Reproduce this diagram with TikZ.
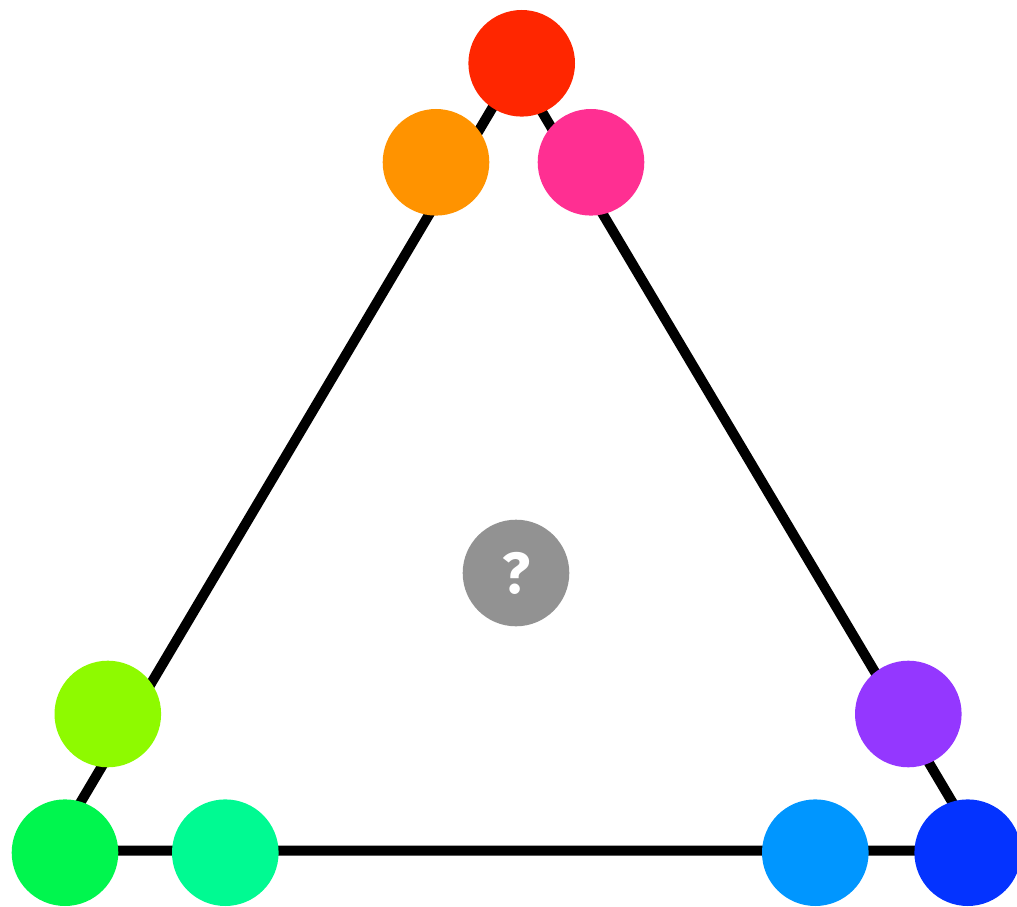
\documentclass[tikz,border=0pt]{standalone}
\usepackage{fontspec}
\newfontfamily\qfont{Fira Sans}
\definecolor{cMaraschino}{HTML}{FF2600}
\definecolor{cTangerine}{HTML}{FF9300}
\definecolor{cStrawberry}{HTML}{FF2F92}
\definecolor{cLime}{HTML}{8EFA00}
\definecolor{cSpring}{HTML}{00F64E}
\definecolor{cSeafoam}{HTML}{00FA92}
\definecolor{cAqua}{HTML}{0096FF}
\definecolor{cBlueberry}{HTML}{0433FF}
\definecolor{cGrape}{HTML}{9437FF}
\definecolor{cNickel}{HTML}{929292}
\tikzset{
  dot/.style={circle, fill=#1, draw=none, minimum size=106.6pt, inner sep=0pt},
  edge/.style={line width=10pt, black, line join=miter}
}
\begin{document}
\begin{tikzpicture}[x=1pt,y=1pt]
\useasboundingbox (0,0) rectangle (1017,906);
\coordinate (top) at (516,838);
\coordinate (left) at (52,55.5);
\coordinate (right) at (981,55.5);
\draw[edge] (left) -- (top) -- (right) -- cycle;
\node[dot=cMaraschino] (red) at (521.7,842.7) {};
\node[dot=cTangerine] (orange) at (436,743.7) {};
\node[dot=cStrawberry] (pink) at (591,743.7) {};
\node[dot=cLime] (lime) at (107.8,192) {};
\node[dot=cSpring] (green) at (65,53.3) {};
\node[dot=cSeafoam] (seafoam) at (225.3,53.3) {};
\node[dot=cAqua] (aqua) at (815.3,53.3) {};
\node[dot=cBlueberry] (blue) at (967.7,53.3) {};
\node[dot=cGrape] (grape) at (908.3,192) {};
\node[dot=cNickel, text=white, font=\qfont\bfseries\fontsize{58}{60}\selectfont] (center) at (516,333) {?};
\end{tikzpicture}
\end{document}
